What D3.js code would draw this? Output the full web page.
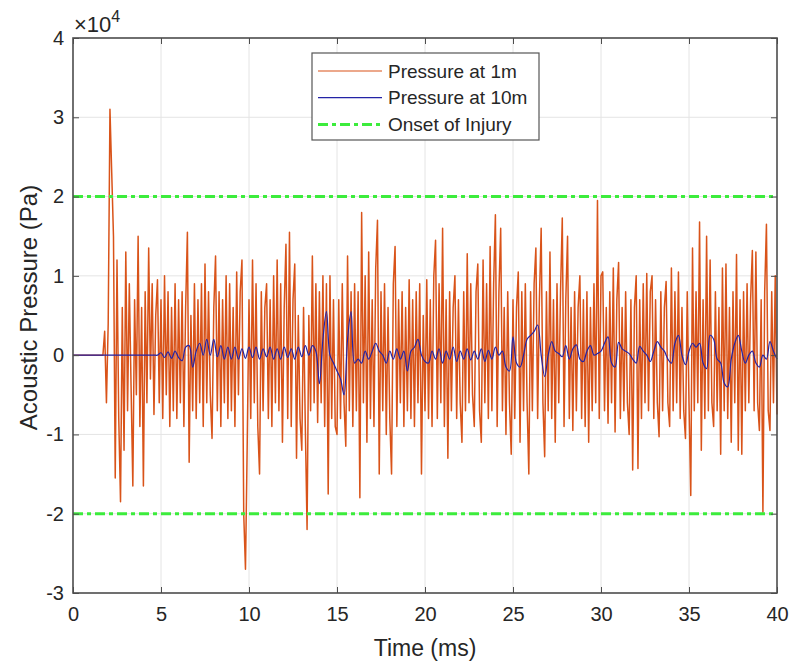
<html>
<head>
  <meta charset="utf-8"/>
  <style>
    body { margin: 0; background: #fff; }
    text { font-family: "Liberation Sans", Arial, sans-serif; fill: #262626; }
  </style>
</head>
<body>
<svg></svg>
<script src="https://d3js.org/d3.v7.min.js"></script>
<script>
var margin = {top: 38, right: 15, bottom: 71, left: 73};
var width = 792 - margin.left - margin.right
var height = 664 - margin.top - margin.bottom

// pressure at 1 m, x1e4 Pa, sampled every 0.1 ms from t = 0
var orangeStep = 0.1
var pressure1m = [
  0,0,0,0,0,0,0,0,0,0,
  0,0,0,0,0,0,0,0,0.3,-0.6,
  0.4,3.1,2.3,1.5,-1.55,1.2,-0.8,-1.85,0.6,-1.2,
  1.3,-0.7,0.9,-0.4,-1.65,0.7,-0.5,1.5,-0.9,0.6,
  -1.65,0.8,-0.6,1.35,-0.3,0.9,-0.75,0.5,0.95,-0.6,
  0.7,-0.8,1.0,-0.5,0.8,-0.9,0.6,-0.7,0.9,-0.8,
  0.7,-0.6,0.8,-0.9,0.6,1.55,-1.35,0.5,-0.7,0.9,
  -0.8,0.7,-0.6,0.9,-0.9,1.15,-0.6,0.8,-0.5,-1.05,
  0.6,1.25,-0.7,0.8,-0.9,0.7,-0.6,1.0,-0.8,0.9,
  -0.7,0.6,-0.9,1.05,-0.5,0.8,1.2,-2.0,-2.7,-1.1,
  0.7,-0.8,1.2,-0.6,0.9,-0.9,-1.5,0.8,-0.7,0.6,
  0.9,-0.8,0.7,-0.9,1.0,-0.6,1.2,-0.7,0.9,-1.1,
  0.6,1.4,-0.8,1.55,-0.9,0.7,1.15,-1.3,0.5,-0.8,
  -1.2,0.6,-0.9,-2.2,0.5,-0.7,1.25,-0.6,0.9,-0.85,
  0.8,-0.6,1.0,-0.9,0.9,-1.75,1.0,-0.8,0.7,-0.9,
  -1.0,0.7,-0.8,0.9,-0.6,-1.15,1.25,-0.7,0.8,-0.9,
  0.9,-0.7,0.8,-1.8,1.8,-0.6,1.0,-1.1,1.3,-0.8,
  0.7,-0.9,1.1,1.7,-1.5,0.8,-0.7,0.9,-1.0,0.6,
  -0.8,-1.5,0.9,1.37,-0.9,0.7,-0.6,0.8,-0.9,0.6,
  -0.7,0.95,-0.8,0.7,-0.9,0.8,-0.6,0.9,-1.5,0.5,
  -0.7,0.95,-0.8,0.7,-0.9,1.0,1.45,-0.8,0.9,-0.6,
  1.6,-0.9,0.7,-1.3,0.8,-0.7,0.6,1.0,-0.8,0.7,
  -0.6,-1.1,0.8,-0.7,1.28,-0.6,0.9,-0.5,-0.9,0.8,
  1.15,-0.7,-1.1,1.2,-0.6,0.9,-0.8,1.37,-0.7,0.9,
  1.77,-0.9,0.8,1.6,-0.7,0.6,-1.0,0.8,-0.6,-1.25,
  0.7,-0.8,0.6,1.05,-1.1,0.8,-0.7,0.9,-0.6,-1.5,
  0.8,-0.7,0.9,1.35,-0.8,0.7,1.6,-0.6,-1.28,0.8,
  -0.7,1.3,-0.8,0.7,-1.1,0.9,-0.6,0.8,1.73,-0.9,
  0.7,1.5,-0.8,0.6,-0.95,0.8,-0.7,0.6,1.0,-0.8,
  0.7,-0.9,0.8,-1.1,0.6,-0.7,0.9,-0.6,1.95,-0.8,
  1.0,1.05,-0.7,0.6,-0.86,0.8,-0.6,1.1,-0.97,0.7,
  1.17,-0.8,0.6,-0.7,0.8,-0.6,-1.0,0.7,-1.45,0.6,
  1.0,-1.43,0.7,-0.8,0.9,-0.6,1.03,-0.7,0.8,1.0,
  -0.8,0.7,-0.6,-1.03,0.8,-0.7,0.6,0.93,-0.6,-0.9,
  1.1,-0.7,0.8,-0.6,1.05,-0.8,0.6,-0.7,-1.05,0.8,
  -0.6,-1.77,1.35,-0.7,0.8,-0.6,1.68,-1.2,0.7,-0.8,
  1.5,-0.7,1.2,-0.6,-0.9,0.8,-0.7,0.6,-1.25,1.1,
  -0.7,1.15,-0.8,0.6,-1.1,0.8,-0.6,1.27,-1.2,0.7,
  -1.25,0.8,-0.7,0.9,-0.6,0.7,1.32,-0.7,1.3,-0.6,
  -0.95,0.7,-1.98,0.8,1.65,-0.7,-0.95,0.8,-0.6,1.0,
  -0.75
]

// pressure at 10 m, x1e4 Pa, sampled every 0.2 ms from t = 0
var blueStep = 0.2
var pressure10m = [
  0,0,0,0,0,0,0,0,0,0,
  0,0,0,0,0,0,0,0,0,0,
  0,0,0,0,0,0.03,-0.03,0.04,-0.04,0.05,
  -0.03,-0.07,0.1,0.12,-0.15,0.05,0.15,0.0,0.2,0.0,
  0.2,-0.02,0.12,-0.05,0.1,-0.05,0.1,-0.05,0.08,-0.04,
  0.1,-0.03,0.1,-0.05,0.08,-0.02,0.1,-0.05,0.08,-0.05,
  0.1,-0.03,0.08,-0.05,0.1,-0.02,0.12,0.0,0.12,0.05,
  -0.36,0.2,0.55,0.0,-0.1,-0.2,-0.3,-0.5,0.2,0.55,
  -0.1,-0.05,-0.1,0.05,-0.05,0.05,0.15,0.05,0.0,-0.1,
  0.05,-0.05,0.08,-0.05,0.05,-0.2,0.05,0.1,0.2,0.0,
  -0.08,-0.1,0.05,-0.05,0.08,-0.1,0.05,-0.05,0.1,-0.08,
  0.05,-0.05,0.08,-0.06,0.05,-0.05,0.08,-0.08,0.06,-0.05,
  0.1,0.0,0.05,-0.15,-0.2,0.23,-0.1,-0.15,0.0,0.2,
  0.25,0.3,0.38,0.0,-0.27,0.0,0.17,0.05,0.02,-0.02,
  0.12,-0.05,0.08,0.13,-0.05,-0.08,0.05,0.12,0.0,0.02,
  0.05,0.15,0.23,-0.1,-0.15,0.16,0.08,0.05,0.02,-0.05,
  -0.1,0.11,0.05,0.0,-0.08,0.05,0.17,0.1,0.05,-0.05,
  -0.1,0.15,0.25,0.0,-0.12,0.05,0.15,0.1,0.15,-0.1,
  -0.17,0.25,0.2,-0.05,-0.1,-0.35,-0.4,-0.05,0.15,0.25,
  0.05,-0.1,0.0,0.05,-0.1,-0.15,0.0,-0.05,0.17,0.05,
  -0.05
]

var injuryLevels = [2, -2]
var xTicks = [0, 5, 10, 15, 20, 25, 30, 35, 40]
var yTicks = [-3, -2, -1, 0, 1, 2, 3, 4]
var legendLabels = ["Pressure at 1m", "Pressure at 10m", "Onset of Injury"]

var orange = "#d95319", blue = "#2323a6", green = "#3cec3c"

var svg = d3.select("svg")
  .attr("width", 792)
  .attr("height", 664)

var chart = svg.append("g")
  .attr("transform", "translate(" + margin.left + "," + margin.top + ")")

var x = d3.scaleLinear().domain([0, 40]).range([0, width])
var y = d3.scaleLinear().domain([-3, 4]).range([height, 0])

// grid
chart.append("g").selectAll("line")
  .data(xTicks.slice(1, -1)).enter().append("line")
  .attr("x1", d => x(d)).attr("x2", d => x(d))
  .attr("y1", 0).attr("y2", height)
  .attr("stroke", "#e4e4e4")
chart.append("g").selectAll("line")
  .data(yTicks.slice(1, -1)).enter().append("line")
  .attr("y1", d => y(d)).attr("y2", d => y(d))
  .attr("x1", 0).attr("x2", width)
  .attr("stroke", "#e4e4e4")

var plot = chart.append("g")

var line1 = d3.line()
  .x((d, i) => x(i * orangeStep))
  .y(d => y(d))
plot.append("path")
  .attr("d", line1(pressure1m))
  .attr("fill", "none")
  .attr("stroke", orange)
  .attr("stroke-width", 1.5)
  .attr("stroke-linejoin", "round")

var line10 = d3.line()
  .x((d, i) => x(i * blueStep))
  .y(d => y(d))
  .curve(d3.curveCatmullRom.alpha(0.5))
plot.append("path")
  .attr("d", line10(pressure10m))
  .attr("fill", "none")
  .attr("stroke", blue)
  .attr("stroke-width", 1.2)

plot.selectAll(".injury")
  .data(injuryLevels).enter().append("line")
  .attr("class", "injury")
  .attr("x1", 0).attr("x2", width)
  .attr("y1", d => y(d)).attr("y2", d => y(d))
  .attr("stroke", green)
  .attr("stroke-width", 3)
  .attr("stroke-dasharray", "10,4,4,4")

// axes, ticks inward on all four sides
function styleAxis(g) {
  g.select(".domain").remove()
  g.selectAll(".tick line").attr("stroke", "#4d4d4d")
  g.selectAll(".tick text").attr("font-size", 20).attr("fill", "#262626")
    .style("font-family", "'Liberation Sans', Arial, sans-serif")
}
chart.append("g")
  .attr("transform", "translate(0," + height + ")")
  .call(d3.axisBottom(x).tickValues(xTicks).tickSizeInner(-6).tickSizeOuter(0).tickPadding(14))
  .call(styleAxis)
chart.append("g")
  .call(d3.axisTop(x).tickValues(xTicks).tickSizeInner(-6).tickSizeOuter(0).tickFormat(""))
  .call(styleAxis)
chart.append("g")
  .call(d3.axisLeft(y).tickValues(yTicks).tickSizeInner(-6).tickSizeOuter(0).tickPadding(9)
    .tickFormat(d => String(d)))
  .call(styleAxis)
chart.append("g")
  .attr("transform", "translate(" + width + ",0)")
  .call(d3.axisRight(y).tickValues(yTicks).tickSizeInner(-6).tickSizeOuter(0).tickFormat(""))
  .call(styleAxis)

chart.append("rect")
  .attr("width", width).attr("height", height)
  .attr("fill", "none")
  .attr("stroke", "#4d4d4d")
  .attr("stroke-width", 1.6)

// exponent
var expo = chart.append("text")
  .attr("x", 1).attr("y", -6)
  .attr("font-size", 22)
expo.append("tspan").text("\u00d710")
expo.append("tspan").attr("dy", -10).attr("font-size", 16).text("4")

// labels
chart.append("text")
  .attr("x", width / 2).attr("y", height + 63)
  .attr("text-anchor", "middle")
  .attr("font-size", 23)
  .text("Time (ms)")
chart.append("text")
  .attr("transform", "translate(" + (-36) + "," + (height / 2 - 8) + ") rotate(-90)")
  .attr("text-anchor", "middle")
  .attr("font-size", 24)
  .text("Acoustic Pressure (Pa)")

// legend
var legend = chart.append("g")
  .attr("transform", "translate(" + (312 - margin.left) + "," + (53 - margin.top) + ")")
legend.append("rect")
  .attr("width", 227).attr("height", 87)
  .attr("fill", "#fff")
  .attr("stroke", "#555")
  .attr("stroke-width", 1.2)
var item = legend.selectAll(".item")
  .data(legendLabels).enter().append("g")
  .attr("class", "item")
  .attr("transform", (d, i) => "translate(0," + (18 + i * 26.7) + ")")
item.append("line")
  .attr("x1", 6).attr("x2", 70)
  .attr("stroke", (d, i) => [orange, blue, green][i])
  .attr("stroke-width", (d, i) => i == 2 ? 3 : 1.2)
  .attr("stroke-dasharray", (d, i) => i == 2 ? "10,4,4,4" : null)
item.append("text")
  .attr("x", 76).attr("dy", "0.35em")
  .attr("font-size", 19)
  .text(d => d)
</script>
</body>
</html>
